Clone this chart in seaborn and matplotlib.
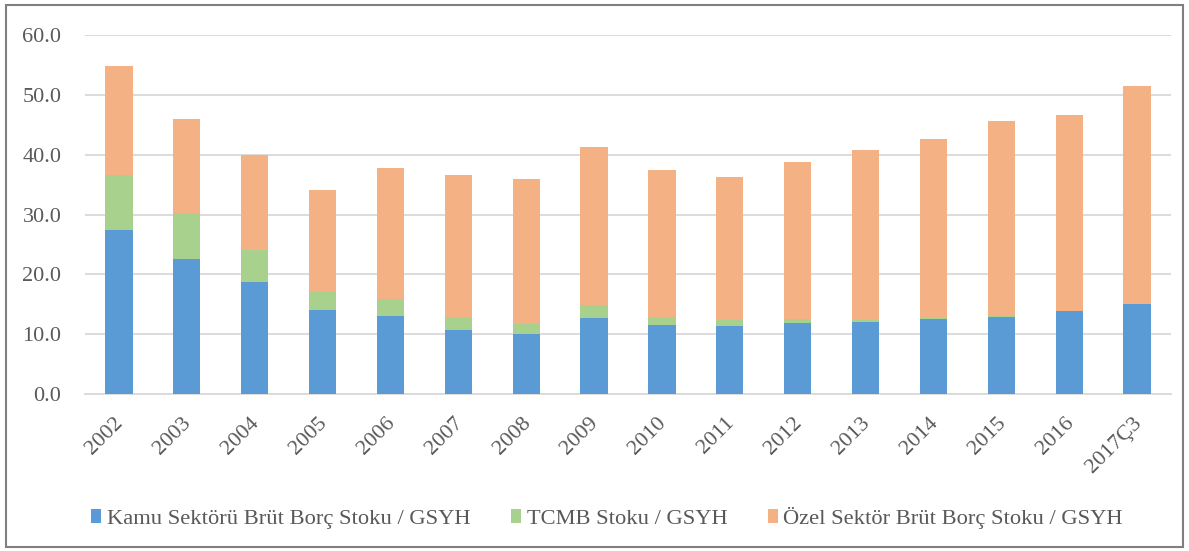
import numpy as np
import pandas as pd
import matplotlib.pyplot as plt
import seaborn as sns
from matplotlib.patches import Patch, Rectangle
from matplotlib.ticker import FormatStrFormatter
import matplotlib.transforms as mtransforms

years = ["2002", "2003", "2004", "2005", "2006", "2007", "2008", "2009",
         "2010", "2011", "2012", "2013", "2014", "2015", "2016", "2017Ç3"]
kamu = [27.4, 22.5, 18.7, 14.1, 13.1, 10.7, 10.0, 12.7,
        11.5, 11.3, 11.9, 12.1, 12.5, 12.9, 13.8, 15.0]
tcmb = [9.2, 7.8, 5.3, 2.9, 2.7, 2.2, 1.7, 2.1,
        1.4, 1.0, 0.6, 0.3, 0.2, 0.15, 0.05, 0.1]
ozel = [18.2, 15.6, 16.0, 17.1, 22.0, 23.7, 24.3, 26.4,
        24.6, 23.9, 26.3, 28.4, 30.0, 32.65, 32.85, 36.4]

labels = ["Kamu Sektörü Brüt Borç Stoku / GSYH", "TCMB Stoku / GSYH",
          "Özel Sektör Brüt Borç Stoku / GSYH"]
colors = ["#5B9BD5", "#A9D18E", "#F4B183"]

df = pd.DataFrame({"yil": years, "kamu": kamu, "tcmb": tcmb, "ozel": ozel})
# stack by drawing cumulative heights on top of each other
df["kamu_tcmb"] = df["kamu"] + df["tcmb"]
df["toplam"] = df["kamu_tcmb"] + df["ozel"]

sns.set_style("white")
plt.rcParams["font.family"] = ["Liberation Serif", "DejaVu Serif"]
text_color = "#595959"

fig = plt.figure(figsize=(11.89, 5.51), dpi=100)
ax = fig.add_axes([85 / 1189, 1 - 394 / 551, (1171 - 85) / 1189, (394 - 35) / 551])

for col, c in [("toplam", colors[2]), ("kamu_tcmb", colors[1]), ("kamu", colors[0])]:
    sns.barplot(data=df, x="yil", y=col, color=c, saturation=1, width=0.4,
                linewidth=0, ax=ax, zorder=3)

ax.set_ylim(0, 60)
ax.set_xlim(-0.5, len(years) - 0.5)
ax.set_yticks(np.arange(0, 61, 10))
ax.yaxis.set_major_formatter(FormatStrFormatter("%.1f"))
ax.grid(axis="y", color="#D9D9D9", linewidth=1.3, zorder=0)
ax.grid(axis="x", visible=False)
for s in ["top", "right", "left"]:
    ax.spines[s].set_visible(False)
ax.spines["bottom"].set_color("#D9D9D9")
ax.spines["bottom"].set_linewidth(1.3)
ax.set_xlabel("")
ax.set_ylabel("")
ax.tick_params(axis="y", length=0, pad=17, labelsize=16, labelcolor=text_color)
ax.tick_params(axis="x", length=0, pad=14, labelsize=16, labelcolor=text_color)

offset = mtransforms.ScaledTranslation(-5 / 100, 0, fig.dpi_scale_trans)
for lbl in ax.get_xticklabels():
    lbl.set_rotation(45)
    lbl.set_ha("right")
    lbl.set_va("top")
    lbl.set_rotation_mode("anchor")
    lbl.set_transform(lbl.get_transform() + offset)

handles = [Patch(facecolor=c, edgecolor="none") for c in colors]
fig.legend(handles, labels, loc="center", bbox_to_anchor=(607 / 1189, 1 - 518 / 551),
           ncol=3, frameon=False, fontsize=16.2, labelcolor=text_color,
           handlelength=0.45, handleheight=0.55, handletextpad=0.25,
           columnspacing=1.8)

fig.patches.append(Rectangle((6 / 1189, 4 / 551), 1177 / 1189, 542 / 551,
                             transform=fig.transFigure, fill=False,
                             edgecolor="#7F7F7F", linewidth=1.5))

fig.savefig("out.png", dpi=100)
